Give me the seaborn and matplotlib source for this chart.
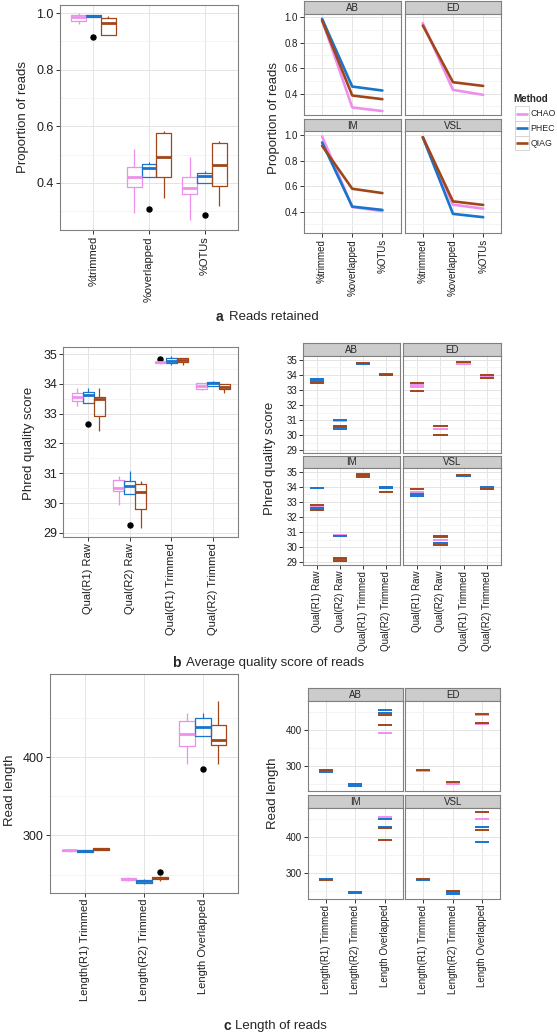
import numpy as np
import pandas as pd
import matplotlib.pyplot as plt
import seaborn as sns
from matplotlib.patches import Rectangle

sns.set_style('white')
plt.rcParams['font.family'] = ['Liberation Sans', 'DejaVu Sans']

W, H = 557, 1035
methods = ['CHAO', 'PHEC', 'QIAG']
sites = ['AB', 'ED', 'IM', 'VSL']
pal = {'CHAO': '#EE8FEE', 'PHEC': '#1874CD', 'QIAG': '#A0461A'}

# ---------------- a: reads retained ----------------
a_cats = ['%trimmed', '%overlapped', '%OTUs']
a_box_chao = [[0.962, 0.970, 0.974, 0.982, 0.988, 0.992, 0.995, 0.998, 1.000],
              [0.294, 0.360, 0.386, 0.400, 0.419, 0.440, 0.456, 0.490, 0.518],
              [0.268, 0.320, 0.359, 0.370, 0.382, 0.400, 0.421, 0.450, 0.492]]
a_box_phec = [[0.915, 0.986, 0.988, 0.989, 0.990, 0.991, 0.993, 0.994, 0.995],
              [0.307, 0.421, 0.421, 0.440, 0.451, 0.460, 0.466, 0.470, 0.475],
              [0.286, 0.398, 0.400, 0.410, 0.424, 0.430, 0.436, 0.438, 0.440]]
a_box_qiag = [[0.922, 0.923, 0.924, 0.950, 0.967, 0.975, 0.982, 0.986, 0.990],
              [0.347, 0.390, 0.421, 0.440, 0.490, 0.550, 0.577, 0.580, 0.582],
              [0.319, 0.350, 0.389, 0.430, 0.462, 0.520, 0.541, 0.546, 0.548]]
# per site (AB, ED, IM, VSL): values at %trimmed, %overlapped, %OTUs
a_line_chao = [[0.980, 0.292, 0.264], [0.953, 0.430, 0.391],
               [0.990, 0.437, 0.405], [0.984, 0.455, 0.424]]
a_line_phec = [[0.987, 0.456, 0.425], None,
               [0.943, 0.440, 0.414], [0.984, 0.383, 0.357]]
a_line_qiag = [[0.974, 0.386, 0.357], [0.935, 0.490, 0.461],
               [0.917, 0.580, 0.546], [0.984, 0.481, 0.453]]

# ---------------- b: average quality score ----------------
b_cats = ['Qual(R1) Raw', 'Qual(R2) Raw', 'Qual(R1) Trimmed', 'Qual(R2) Trimmed']
b_box_chao = [[33.26, 33.35, 33.41, 33.50, 33.57, 33.62, 33.68, 33.78, 33.88],
              [29.95, 30.30, 30.39, 30.45, 30.49, 30.60, 30.76, 30.85, 30.90],
              [34.68, 34.69, 34.70, 34.71, 34.72, 34.73, 34.75, 34.76, 34.85],
              [33.78, 33.82, 33.84, 33.90, 33.94, 33.98, 34.02, 34.02, 34.02]]
b_box_phec = [[32.64, 33.37, 33.37, 33.50, 33.62, 33.68, 33.73, 33.80, 33.88],
              [29.25, 30.29, 30.29, 30.45, 30.56, 30.65, 30.73, 30.90, 31.06],
              [34.65, 34.67, 34.69, 34.74, 34.78, 34.82, 34.87, 34.90, 34.93],
              [33.93, 33.93, 33.93, 33.98, 34.02, 34.05, 34.07, 34.09, 34.11]]
b_box_qiag = [[32.43, 32.80, 32.93, 33.30, 33.48, 33.53, 33.57, 33.70, 33.88],
              [29.15, 29.60, 29.81, 30.10, 30.37, 30.50, 30.64, 30.70, 30.73],
              [34.63, 34.70, 34.73, 34.76, 34.80, 34.83, 34.87, 34.87, 34.87],
              [33.68, 33.76, 33.82, 33.86, 33.90, 33.95, 33.99, 34.00, 34.00]]
# per site: replicate values for each quality category
b_seg_chao = [[[33.56], [30.93], [34.75], [34.00]],
              [[33.33, 33.22], [30.44], [34.72], [33.89]],
              [[32.70], [30.80], [34.80], [33.95]],
              [[33.69], [30.51], [34.75], [33.93]]]
b_seg_phec = [[[33.70, 33.62], [31.04, 30.42], [34.74], [34.05, 33.96]],
              None,
              [[33.90, 32.60], [30.73, 29.22], [34.87], [34.02, 33.90]],
              [[33.53, 33.40], [30.67, 30.31], [34.71], [34.02]]]
b_seg_qiag = [[[33.47], [30.64, 30.57], [34.77], [34.02]],
              [[33.49, 32.96], [30.60, 30.00], [34.82], [33.98, 33.80]],
              [[32.82, 32.45], [29.31, 29.12], [34.76, 34.66], [33.67]],
              [[33.89], [30.76, 30.18], [34.80], [33.84]]]

# ---------------- c: length of reads ----------------
c_cats = ['Length(R1) Trimmed', 'Length(R2) Trimmed', 'Length Overlapped']
c_box_chao = [[279.5, 279.8, 280.0, 280.5, 281.0, 281.5, 282.0, 282.3, 282.5],
              [242.5, 243.0, 243.5, 244.0, 244.3, 245.0, 245.5, 246.0, 246.5],
              [391.0, 405.0, 413.6, 420.0, 429.0, 438.0, 446.4, 452.0, 456.0]]
c_box_phec = [[278.5, 278.8, 279.0, 279.8, 280.4, 281.0, 281.5, 281.8, 282.0],
              [238.5, 239.0, 239.5, 240.5, 241.7, 242.5, 243.5, 244.0, 244.5],
              [384.7, 427.0, 427.0, 432.0, 437.9, 443.0, 449.4, 452.0, 456.0]]
c_box_qiag = [[281.0, 281.3, 281.6, 282.0, 282.6, 283.0, 283.5, 284.0, 284.5],
              [242.5, 243.0, 244.0, 245.0, 245.5, 246.0, 247.0, 248.0, 252.8],
              [391.0, 405.0, 415.3, 418.0, 421.7, 430.0, 440.9, 455.0, 471.0]]
c_seg_chao = [[[285], [], [392.6]],
              [[286], [250], [440, 415]],
              [[], [], [457]],
              [[], [], [450]]]
c_seg_phec = [[[283], [251, 244], [456.5, 448]],
              None,
              [[284], [249, 246], [450, 429]],
              [[281], [249, 243], [428, 386]]]
c_seg_qiag = [[[288], [], [440.7, 413]],
              [[289], [255], [443.5, 418.5]],
              [[281], [], [425, 391.7]],
              [[284], [250], [471, 419]]]

fig = plt.figure(figsize=(W / 100, H / 100), dpi=100)


def px_ax(x0, y0, x1, y1):
    return fig.add_axes([x0 / W, 1 - y1 / H, (x1 - x0) / W, (y1 - y0) / H])


def box_frame(cats, chao, phec, qiag):
    rows = []
    for m, per_cat in zip(methods, [chao, phec, qiag]):
        for c, vals in zip(cats, per_cat):
            rows += [(c, m, v) for v in vals]
    return pd.DataFrame(rows, columns=['cat', 'method', 'value'])


def site_frame(cats, k, chao, phec, qiag, nested):
    rows = []
    for i, c in enumerate(cats):
        for m, d in zip(methods, [chao, phec, qiag]):
            if d[k] is None:
                continue
            vals = d[k][i] if nested else [d[k][i]]
            rows += [(c, m, v) for v in vals]
    df = pd.DataFrame(rows, columns=['cat', 'method', 'value'])
    df['cat'] = pd.Categorical(df['cat'], categories=cats)
    return df


def style_ax(ax, ncat, ylim, yticks, minors, xlabels=None, ylabels=None, xfs=8, yfs=9):
    ax.set_xlim(-0.6, ncat - 0.4)
    ax.set_ylim(*ylim)
    ax.set_xticks(range(ncat))
    ax.set_yticks(yticks)
    ax.set_yticks(minors, minor=True)
    ax.set_axisbelow(True)
    ax.grid(True, which='major', color='#E4E4E4', lw=0.7)
    ax.grid(True, which='minor', axis='y', color='#F3F3F3', lw=0.6)
    for s in ax.spines.values():
        s.set_visible(True)
        s.set_color('#808080')
        s.set_linewidth(0.8)
    ax.tick_params(which='minor', length=0)
    ax.tick_params(which='major', direction='out', length=3, width=0.7,
                   color='#333333', labelcolor='#1e1e1e', pad=1.5)
    if xlabels is not None:
        ax.tick_params(axis='x', bottom=True)
        ax.set_xticklabels(xlabels, rotation=90, fontsize=xfs)
    else:
        ax.tick_params(axis='x', bottom=False, labelbottom=False)
    if ylabels is not None:
        ax.tick_params(axis='y', left=True)
        ax.set_yticklabels(ylabels, fontsize=yfs)
    else:
        ax.tick_params(axis='y', left=False, labelleft=False)
    ax.set_xlabel('')
    ax.set_ylabel('')


def strip(x0, y0, x1, y1, label):
    sa = px_ax(x0, y0, x1, y1)
    sa.set_facecolor('#CCCCCC')
    for s in sa.spines.values():
        s.set_visible(True)
        s.set_color('#808080')
        s.set_linewidth(0.8)
    sa.set_xticks([])
    sa.set_yticks([])
    sa.text(0.5, 0.45, label, ha='center', va='center', fontsize=7, transform=sa.transAxes)


def box_panel(rect, cats, chao, phec, qiag, ylim, yticks, ylabels, minors):
    ax = px_ax(*rect)
    df = box_frame(cats, chao, phec, qiag)
    sns.boxplot(data=df, x='cat', y='value', hue='method', order=cats, hue_order=methods,
                palette=pal, saturation=1, fill=False, width=0.8, gap=0, linewidth=0.9,
                whis=1.5, showcaps=False, legend=False, ax=ax,
                flierprops=dict(marker='o', markerfacecolor='black', markeredgecolor='black',
                                markersize=3.6),
                medianprops=dict(linewidth=2.0))
    style_ax(ax, len(cats), ylim, yticks, minors, xlabels=cats, ylabels=ylabels, xfs=8, yfs=9)
    return ax


def facet_panels(cols, rows, cats, chao, phec, qiag, kind, ylim, yticks, ylabels, minors):
    k = 0
    for r, (sy0, py0, py1) in enumerate(rows):
        for c, (x0, x1) in enumerate(cols):
            strip(x0, sy0, x1, py0, sites[k])
            ax = px_ax(x0, py0, x1, py1)
            df = site_frame(cats, k, chao, phec, qiag, nested=(kind == 'seg'))
            if kind == 'line':
                sns.lineplot(data=df, x='cat', y='value', hue='method', hue_order=methods,
                             palette=pal, lw=1.9, errorbar=None, legend=False, ax=ax)
            else:
                sns.scatterplot(data=df, x='cat', y='value', hue='method', hue_order=methods,
                                palette=pal, marker='_', s=105, linewidth=1.4,
                                legend=False, ax=ax)
            style_ax(ax, len(cats), ylim, yticks, minors,
                     xlabels=cats if r == 1 else None,
                     ylabels=ylabels if c == 0 else None, xfs=7, yfs=7)
            k += 1


def caption(x_letter, x_text, y, letter, text):
    fig.text(x_letter / W, 1 - y / H, letter, fontsize=10, fontweight='bold', va='center')
    fig.text(x_text / W, 1 - y / H, text, fontsize=9.5, va='center')


def ylab(x, y, text):
    fig.text(x / W, 1 - y / H, text, rotation=90, ha='center', va='center', fontsize=9.5)


# ---- panel a
a_ylim = (0.233, 1.029)
a_ticks = [0.4, 0.6, 0.8, 1.0]
a_tl = ['0.4', '0.6', '0.8', '1.0']
a_minor = [0.3, 0.5, 0.7, 0.9]
box_panel((60, 5, 238, 230), a_cats, a_box_chao, a_box_phec, a_box_qiag,
          a_ylim, a_ticks, a_tl, a_minor)
facet_panels([(304, 400.5), (404.7, 501.3)], [(1, 13.5, 115), (119, 131.5, 233)],
             a_cats, a_line_chao, a_line_phec, a_line_qiag, 'line',
             a_ylim, a_ticks, a_tl, a_minor)
ylab(23, 117, 'Proportion of reads')
ylab(274, 118, 'Proportion of reads')
caption(216, 229, 317, 'a', 'Reads retained')

# legend for method colours
lax = px_ax(506, 88, 557, 154)
lax.set_xlim(506, 557)
lax.set_ylim(154, 88)
lax.axis('off')
lax.text(513.5, 99, 'Method', fontsize=7, fontweight='bold', va='center')
for i, m in enumerate(methods):
    yc = 113.7 + 14.7 * i
    lax.add_patch(Rectangle((514.5, yc - 7.3), 14, 14.6, facecolor='white',
                            edgecolor='#D0D0D0', lw=0.6))
    lax.plot([515.5, 527.5], [yc, yc], color=pal[m], lw=1.9, solid_capstyle='butt')
    lax.text(530.5, yc, m, fontsize=6.3, va='center')

# ---- panel b
b_ylim = (28.85, 35.25)
b_ticks = [29, 30, 31, 32, 33, 34, 35]
b_tl = [str(t) for t in b_ticks]
b_minor = [29.5, 30.5, 31.5, 32.5, 33.5, 34.5]
box_panel((63.3, 346.7, 238, 537.3), b_cats, b_box_chao, b_box_phec, b_box_qiag,
          b_ylim, b_ticks, b_tl, b_minor)
facet_panels([(303.3, 400), (403.3, 500.7)], [(343.3, 356, 452.7), (455.5, 468, 564.7)],
             b_cats, b_seg_chao, b_seg_phec, b_seg_qiag, 'seg',
             b_ylim, b_ticks, b_tl, b_minor)
ylab(29, 443, 'Phred quality score')
ylab(270, 458, 'Phred quality score')
caption(171.7, 186, 663, 'b', 'Average quality score of reads')

# ---- panel c
c_ticks = [300, 400]
c_tl = ['300', '400']
c_minor = [250, 350, 450]
box_panel((50, 674, 238, 892.7), c_cats, c_box_chao, c_box_phec, c_box_qiag,
          (227, 506), c_ticks, c_tl, c_minor)
facet_panels([(308, 402.7), (405.3, 500)], [(688, 700.7, 791.3), (795, 808, 898.6)],
             c_cats, c_seg_chao, c_seg_phec, c_seg_qiag, 'seg',
             (229.7, 481), c_ticks, c_tl, c_minor)
ylab(10, 790, 'Read length')
ylab(273, 793, 'Read length')
caption(224, 235, 1026, 'c', 'Length of reads')

fig.savefig('out.png', dpi=100)
